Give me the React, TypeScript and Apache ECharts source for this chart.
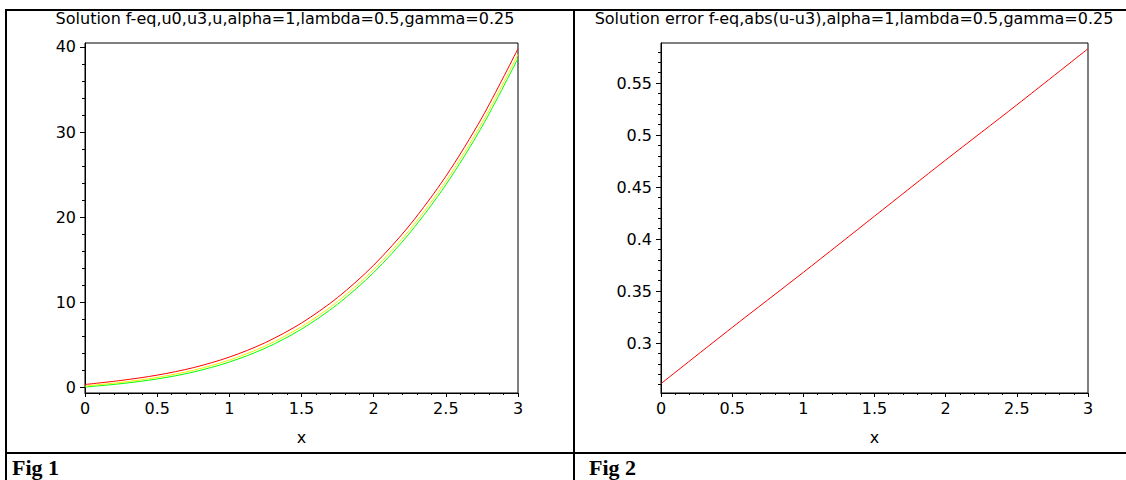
import { useEffect, useRef } from "react";
import * as echarts from "echarts";

// ---- Data ----
const titles = [
  "Solution f-eq,u0,u3,u,alpha=1,lambda=0.5,gamma=0.25",
  "Solution error f-eq,abs(u-u3),alpha=1,lambda=0.5,gamma=0.25",
];
const figLabels = ["Fig 1", "Fig 2"];
const xName = "x";

// Fig 1: three solution curves
const fig1X = [0, 0.25, 0.5, 0.75, 1, 1.25, 1.5, 1.75, 2, 2.25, 2.5, 2.75, 3];
const redCurve = [0.3, 0.78, 1.4, 2.28, 3.52, 5.23, 7.53, 10.53, 14.33, 19.05, 24.79, 31.68, 39.8];
const yellowCurve = [0.12, 0.55, 1.13, 1.97, 3.17, 4.84, 7.1, 10.06, 13.82, 18.5, 24.2, 31.05, 39.13];
const greenCurve = [0.0, 0.4, 0.95, 1.76, 2.94, 4.58, 6.81, 9.74, 13.47, 18.12, 23.79, 30.61, 38.66];
const fig1YTicks = [0, 10, 20, 30, 40];
const fig1YRange = [-0.7, 40.47];

// Fig 2: error line
const fig2X = [0, 0.5, 1, 1.5, 2, 2.5, 3];
const errorCurve = [0.261, 0.315, 0.368, 0.422, 0.476, 0.529, 0.583];
const fig2YTicks = [0.3, 0.35, 0.4, 0.45, 0.5, 0.55];
const fig2YRange = [0.252, 0.5885];

const xTickValues = [0, 0.5, 1, 1.5, 2, 2.5, 3];
const xRange = [0, 3];

const FONT = "DejaVu Sans";

function zip(xs: number[], ys: number[]) {
  return xs.map((x, i) => [x, ys[i]]);
}

export default function App() {
  const ref = useRef<HTMLDivElement>(null);

  useEffect(() => {
    document.body.style.margin = "0";
    if (!ref.current) return;
    const chart = echarts.init(ref.current, null, { renderer: "svg" });

    const axisLineStyle = { color: "#000", width: 1 };
    const labelStyle = { color: "#000", fontFamily: FONT, fontSize: 16 };

    const xAxisFor = (gridIndex: number) => ({
      type: "value",
      gridIndex,
      min: xRange[0],
      max: xRange[1],
      interval: 0.5,
      name: xName,
      nameLocation: "middle",
      nameGap: 36,
      nameTextStyle: { color: "#000", fontFamily: FONT, fontSize: 16 },
      axisLine: { show: true, onZero: false, lineStyle: axisLineStyle },
      axisTick: { show: true, length: 4, lineStyle: axisLineStyle, customValues: xTickValues },
      minorTick: { show: true, splitNumber: 5, length: 2, lineStyle: axisLineStyle },
      splitLine: { show: false },
      minorSplitLine: { show: false },
      axisLabel: { ...labelStyle, margin: 7, customValues: xTickValues },
    });

    const yAxisFor = (gridIndex: number, range: number[], ticks: number[]) => ({
      type: "value",
      gridIndex,
      min: range[0],
      max: range[1],
      splitNumber: 5,
      axisLine: { show: true, onZero: false, lineStyle: axisLineStyle },
      axisTick: { show: true, length: 5, lineStyle: axisLineStyle, customValues: ticks },
      minorTick: { show: true, splitNumber: 5, length: 3, lineStyle: axisLineStyle },
      splitLine: { show: false },
      minorSplitLine: { show: false },
      axisLabel: { ...labelStyle, margin: 9, customValues: ticks },
    });

    const lineSeries = (name: string, xIdx: number, data: number[][], color: string) => ({
      type: "line",
      name,
      xAxisIndex: xIdx,
      yAxisIndex: xIdx,
      data,
      smooth: 0.3,
      showSymbol: false,
      symbol: "none",
      lineStyle: { color, width: 1 },
      itemStyle: { color },
      silent: true,
    });

    const borderFill = { fill: "#000" };

    chart.setOption({
      animation: false,
      backgroundColor: "#fff",
      grid: [
        { left: 85, top: 43, width: 433, height: 350, show: true, borderColor: "#000", borderWidth: 1, containLabel: false },
        { left: 661, top: 43, width: 427, height: 350, show: true, borderColor: "#000", borderWidth: 1, containLabel: false },
      ],
      xAxis: [xAxisFor(0), xAxisFor(1)],
      yAxis: [yAxisFor(0, fig1YRange, fig1YTicks), yAxisFor(1, fig2YRange, fig2YTicks)],
      series: [
        lineSeries("u0", 0, zip(fig1X, greenCurve), "#00ff00"),
        lineSeries("u3", 0, zip(fig1X, yellowCurve), "#f0f000"),
        lineSeries("u", 0, zip(fig1X, redCurve), "#ff0000"),
        lineSeries("abs(u-u3)", 1, zip(fig2X, errorCurve), "#ff0000"),
      ],
      graphic: [
        { type: "rect", silent: true, shape: { x: 5, y: 9, width: 1121, height: 2 }, style: borderFill },
        { type: "rect", silent: true, shape: { x: 5, y: 9, width: 2, height: 471 }, style: borderFill },
        { type: "rect", silent: true, shape: { x: 573, y: 9, width: 2, height: 471 }, style: borderFill },
        { type: "rect", silent: true, shape: { x: 5, y: 452, width: 1121, height: 2 }, style: borderFill },
        {
          type: "text", silent: true, x: 285, y: 18,
          style: { text: titles[0], fill: "#000", fontFamily: FONT, fontSize: 16, align: "center", verticalAlign: "middle" },
        },
        {
          type: "text", silent: true, x: 854, y: 18,
          style: { text: titles[1], fill: "#000", fontFamily: FONT, fontSize: 16, align: "center", verticalAlign: "middle" },
        },
        {
          type: "text", silent: true, x: 12, y: 467,
          style: { text: figLabels[0], fill: "#000", fontFamily: "Liberation Serif", fontWeight: "bold", fontSize: 22, align: "left", verticalAlign: "middle" },
        },
        {
          type: "text", silent: true, x: 589, y: 467,
          style: { text: figLabels[1], fill: "#000", fontFamily: "Liberation Serif", fontWeight: "bold", fontSize: 22, align: "left", verticalAlign: "middle" },
        },
      ],
    });

    return () => {
      chart.dispose();
    };
  }, []);

  return <div ref={ref} style={{ width: 1126, height: 480 }} />;
}
